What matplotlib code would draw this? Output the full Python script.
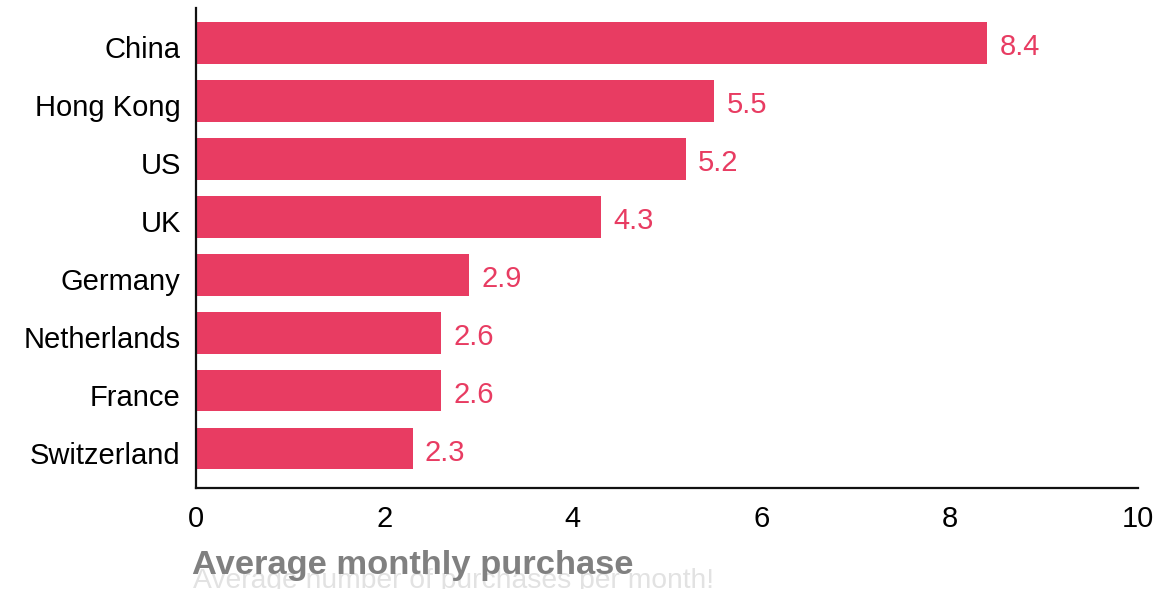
import matplotlib
matplotlib.use("Agg")
import matplotlib.pyplot as plt
from matplotlib.transforms import ScaledTranslation

countries = ["China", "Hong Kong", "US", "UK", "Germany", "Netherlands", "France", "Switzerland"]
values = [8.4, 5.5, 5.2, 4.3, 2.9, 2.6, 2.6, 2.3]
xticks = [0, 2, 4, 6, 8, 10]
title = "Average monthly purchase"
subtitle = "Average number of purchases per month!"

plt.rcParams['font.family'] = ['Liberation Sans', 'DejaVu Sans']
bar_color = "#E83C62"

fig = plt.figure(figsize=(11.76, 5.89), dpi=100)
ax = fig.add_axes([196/1176, 1-488/589, (1138-196)/1176, (488-8)/589])

down = ScaledTranslation(0, -4/100, fig.dpi_scale_trans)

ypos = list(range(len(countries)))[::-1]
ax.barh(ypos, values, height=0.72, color=bar_color)
for y, v in zip(ypos, values):
    ax.text(v + 0.13, y, f"{v}", va="center", ha="left", fontsize=21, color=bar_color,
            transform=ax.transData + down)

ax.set_yticks(ypos)
ax.set_yticklabels(countries, fontsize=21)
ax.set_xticks(xticks)
ax.set_xticklabels([str(t) for t in xticks], fontsize=21)
ax.set_xlim(0, 10)
ax.set_ylim(-0.68, 7.6)
ax.tick_params(axis="both", length=0)
ax.tick_params(axis="x", pad=12)
ax.tick_params(axis="y", pad=11)
for lab in ax.get_yticklabels():
    lab.set_transform(lab.get_transform() + down)
for s in ["top", "right"]:
    ax.spines[s].set_visible(False)
for s in ["left", "bottom"]:
    ax.spines[s].set_linewidth(1.6)
    ax.spines[s].set_color("#111111")

fig.text(193/1176, 1-588/589, subtitle, fontsize=20.3, color="#E2E2E2", ha="left", va="baseline")
fig.text(192/1176, 1-574/589, title, fontsize=24.8, fontweight="bold", color="#808080", ha="left", va="baseline")

fig.savefig("out.png", dpi=100)
